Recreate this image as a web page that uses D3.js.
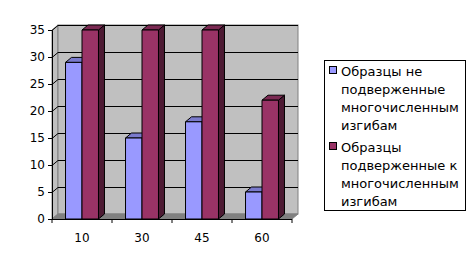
<!DOCTYPE html>
<html>
<head>
<meta charset="utf-8">
<script src="https://cdn.jsdelivr.net/npm/d3@7"></script>
<style>
  body { margin: 0; background: #fff; }
  text { font-family: "DejaVu Sans", sans-serif; font-size: 12px; fill: #000; }
  .legend text { font-size: 13px; }
</style>
</head>
<body>
<div class="chart"></div>
<script>
// data
const categories = ["10", "30", "45", "60"];
const seriesNames = [
  ["Образцы не", "подверженные", "многочисленным", "изгибам"],
  ["Образцы", "подверженные к", "многочисленным", "изгибам"]
];
const notBent = [29, 15, 18, 5];
const bent = [35, 35, 35, 22];
const yTicks = [0, 5, 10, 15, 20, 25, 30, 35];

const W = 472, H = 267;
const dx = 6, dy = 5; // depth of the 3d box

const front = ["#9999ff", "#993366"];
const tops = ["#7a7acc", "#7a2952"];
const sides = ["#6b6bb3", "#4d1a33"];

const svg = d3.select(".chart").append("svg")
  .attr("width", W).attr("height", H);

const x0 = d3.scaleBand().domain(categories).range([52, 292]);
const x1 = d3.scaleBand().domain([0, 1]).range([0, x0.bandwidth()]).paddingOuter(0.82);
const y = d3.scaleLinear().domain([0, 35]).range([219, 30]);

const left = x0.range()[0], right = x0.range()[1];
const yTop = y(35), yBot = y(0);

// left wall
svg.append("path")
  .attr("d", `M${left},${yBot}L${left + dx},${yBot - dy}L${left + dx},${yTop - dy}L${left},${yTop}Z`)
  .attr("fill", "#c0c0c0").attr("stroke", "#808080");
// back wall
svg.append("rect")
  .attr("x", left + dx).attr("y", yTop - dy)
  .attr("width", right - left).attr("height", yBot - yTop)
  .attr("fill", "#c0c0c0").attr("stroke", "#808080");
// floor
svg.append("path")
  .attr("d", `M${left},${yBot}L${right},${yBot}L${right + dx},${yBot - dy}L${left + dx},${yBot - dy}Z`)
  .attr("fill", "#808080").attr("stroke", "#808080");

// gridlines
svg.selectAll(".grid").data(yTicks.filter(d => d > 0)).enter()
  .append("path")
  .attr("fill", "none").attr("stroke", "#000").attr("stroke-width", 1)
  .attr("d", d => `M${left},${Math.round(y(d)) + 0.5}L${left + dx},${Math.round(y(d)) - dy + 0.5}L${right + dx},${Math.round(y(d)) - dy + 0.5}`);

// bars
const series = [notBent, bent];
categories.forEach((c, i) => {
  series.forEach((s, k) => {
    const bx = x0(c) + x1(k), bw = x1.bandwidth();
    const by = y(s[i]);
    const g = svg.append("g").attr("stroke", "#000").attr("stroke-width", 1).attr("stroke-linejoin", "round");
    g.append("path")
      .attr("d", `M${bx + bw},${by}L${bx + bw + dx},${by - dy}L${bx + bw + dx},${yBot - dy}L${bx + bw},${yBot}Z`)
      .attr("fill", sides[k]);
    g.append("path")
      .attr("d", `M${bx},${by}L${bx + dx},${by - dy}L${bx + bw + dx},${by - dy}L${bx + bw},${by}Z`)
      .attr("fill", tops[k]);
    g.append("rect")
      .attr("x", bx).attr("y", by).attr("width", bw).attr("height", yBot - by)
      .attr("fill", front[k]);
  });
});

// axes
const yAxis = d3.axisLeft(y).tickValues(yTicks).tickSize(4).tickPadding(3);
svg.append("g").attr("transform", `translate(${left},0)`).call(yAxis)
  .call(g => g.select(".domain").attr("stroke", "#000"))
  .call(g => g.selectAll("text").style("font-size", "12px").style("font-family", "DejaVu Sans"));

const xLine = svg.append("g");
xLine.append("line").attr("x1", left).attr("x2", right).attr("y1", yBot + 0.5).attr("y2", yBot + 0.5).attr("stroke", "#000");
xLine.selectAll(".tk").data(categories.concat([null])).enter().append("line")
  .attr("x1", (d, i) => left + i * x0.step()).attr("x2", (d, i) => left + i * x0.step())
  .attr("y1", yBot).attr("y2", yBot + 4).attr("stroke", "#000");
xLine.selectAll(".lbl").data(categories).enter().append("text")
  .attr("x", d => x0(d) + x0.bandwidth() / 2).attr("y", 242)
  .attr("text-anchor", "middle").text(d => d);

// legend
const lg = svg.append("g").attr("class", "legend");
lg.append("rect").attr("x", 324.5).attr("y", 60.5).attr("width", 141).attr("height", 150)
  .attr("fill", "#fff").attr("stroke", "#000");
const groupTop = [71, 147];
seriesNames.forEach((lines, k) => {
  lg.append("rect").attr("x", 329.5).attr("y", groupTop[k] - 4.5).attr("width", 7).attr("height", 7)
    .attr("fill", front[k]).attr("stroke", "#000");
  lines.forEach((t, j) => {
    lg.append("text").attr("x", 341).attr("y", groupTop[k] + j * 18.3)
      .attr("dy", "0.35em").text(t);
  });
});
</script>
</body>
</html>
